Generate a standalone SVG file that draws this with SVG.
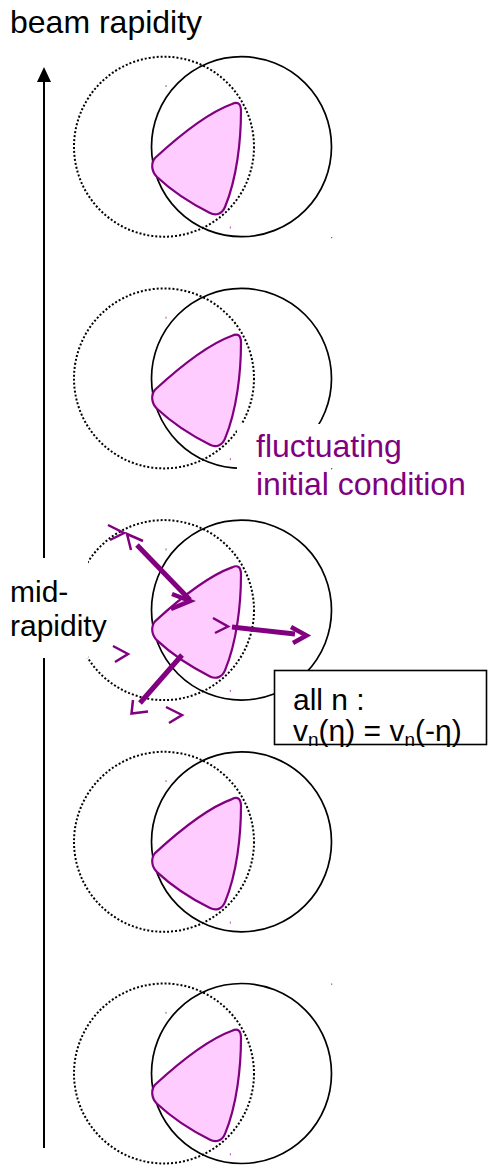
<svg xmlns="http://www.w3.org/2000/svg" width="488" height="1165" viewBox="0 0 488 1165">
<style>
.dot{fill:none;stroke:#000;stroke-width:2;stroke-dasharray:2 2}
.sol{fill:none;stroke:#000;stroke-width:1.7}
.tri{fill:#ffccff;stroke:#800080;stroke-width:2.2;stroke-linejoin:round}
.tick{fill:#b04cb0}
.bd{fill:#444}
.lbl{font-family:"Liberation Sans",Arial,sans-serif;font-size:32px;fill:#000}
.pur{fill:#800080}
.thick{fill:none;stroke:#800080;stroke-width:5}
.head{fill:none;stroke:#800080;stroke-width:4.5;stroke-linejoin:miter}
.thin{fill:none;stroke:#800080;stroke-width:2.5;stroke-linejoin:miter}
</style>
<defs>
<g id="unit">
<circle class="dot" cx="164" cy="146.7" r="90"/>
<circle class="sol" cx="241.5" cy="146.7" r="90"/>
<path class="tri" d="M155,158 C180,135 210,112 232,104 C238,101 241,104 241,111 C241,140 237,178 225,207 C222,214 216,216 210,213 C190,203 172,191 157,177 C151,171 151,163 155,158 Z"/>
<rect class="tick" x="165.5" y="85" width="1" height="2"/>
<rect class="tick" x="229.8" y="226.5" width="1" height="2"/>
</g>
</defs>
<g id="axis">
<line x1="44" y1="80" x2="44" y2="1148" stroke="#000" stroke-width="2"/>
<polygon points="44,67 37,82 51,82" fill="#000"/>
</g>
<g id="beam-label"><text class="lbl" x="10" y="33">beam rapidity</text></g>
<g id="slice1"><use href="#unit"/><circle class="bd" cx="331.7" cy="237.6" r="0.7"/></g>
<g id="slice2" transform="translate(0,231.7)"><use href="#unit"/></g>
<g id="fluct-label">
<rect x="237" y="424" width="240" height="78" fill="#fff"/>
<circle class="bd" cx="331.7" cy="468.8" r="0.7"/>
<text class="lbl pur" x="256" y="457">fluctuating</text>
<text class="lbl pur" x="256" y="495">initial condition</text>
</g>
<g id="slice4" transform="translate(0,695.1)"><use href="#unit"/></g>
<g id="slice5" transform="translate(0,926.8)"><use href="#unit"/><circle class="bd" cx="331.7" cy="57.3" r="0.7"/></g>
<g id="slice3" transform="translate(0,463.4)"><use href="#unit"/></g>
<g id="mid-label">
<rect x="0" y="558" width="88" height="100" fill="#fff"/>
<text class="lbl" x="10" y="602" style="font-size:30px">mid-</text>
<text class="lbl" x="10" y="636" style="font-size:30px">rapidity</text>
</g>
<g id="connectors">
<path class="thick" d="M137,545 L190,600"/>
<path class="head" d="M172,594 L190,601 L171,609"/>
<path class="thin" d="M143,541 L127,534 L131,550"/>
<path class="thin" d="M108,525 L124,533 L110,540"/>
<path class="thin" d="M213,618 L228,626.5 L215,633"/>
<path class="thick" d="M232,627 L295,634"/>
<path class="head" d="M291,627 L306.5,635.5 L293,643"/>
<path class="thick" d="M182,655 L140,703"/>
<path class="thin" d="M133,700 L131.5,713.5 L148,711.5"/>
<path class="thin" d="M113,646 L128,654 L115,662"/>
<path class="thin" d="M166,707 L182,715 L169,723"/>
</g>
<g id="vn-box">
<rect x="274.5" y="670.5" width="212" height="74" fill="#fff" stroke="#000" stroke-width="1.6"/>
<text class="lbl" x="293" y="710" style="font-size:30px">all n :</text>
<text class="lbl" x="293" y="741" style="font-size:30px">v<tspan font-size="19" dy="5">n</tspan><tspan dy="-5">(η) = v</tspan><tspan font-size="19" dy="5">n</tspan><tspan dy="-5">(-η)</tspan></text>
</g>
</svg>
